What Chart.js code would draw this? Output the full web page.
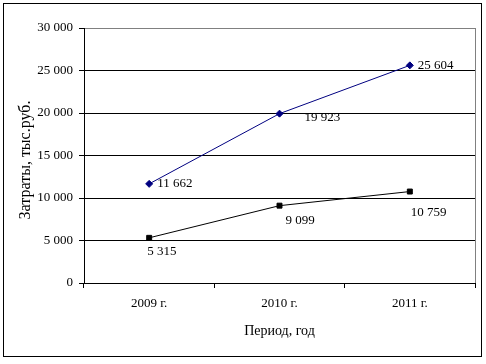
<!DOCTYPE html>
<html>
<head>
<meta charset="utf-8">
<script src="https://cdn.jsdelivr.net/npm/chart.js@4"></script>
<style>
  html, body { margin: 0; padding: 0; background: #fff; }
  #wrap { position: relative; width: 486px; height: 364px; }
  #frame {
    position: absolute; left: 3px; top: 3px; width: 477px; height: 352px;
    border: 1px solid #000; pointer-events: none;
  }
</style>
</head>
<body>
<div id="wrap">
  <canvas id="chart" width="486" height="364"></canvas>
  <div id="frame"></div>
</div>
<script>
  "use strict";

  const categories = ["2009 г.", "2010 г.", "2011 г."];
  const seriesUpper = [11662, 19923, 25604];
  const seriesLower = [5315, 9099, 10759];
  const yTicks = [0, 5000, 10000, 15000, 20000, 25000, 30000];
  const yTitle = "Затраты, тыс.руб.";
  const xTitle = "Период, год";

  // label offsets from each point (px), per dataset
  const labelOffsets = [
    [[8, 0], [25, 4], [8, 0]],
    [[-2, 14], [6, 15], [1, 21]],
  ];

  const FONT = "'Liberation Serif', 'Times New Roman', serif";

  function fmt(v) {
    return String(v).replace(/\B(?=(\d{3})+(?!\d))/g, " ");
  }

  const extras = {
    id: "extras",
    afterDatasetsDraw(chart) {
      const ctx = chart.ctx;
      const area = chart.chartArea;
      ctx.save();
      // right border of plot area
      ctx.strokeStyle = "#808080";
      ctx.lineWidth = 1;
      ctx.beginPath();
      ctx.moveTo(Math.round(area.right) + 0.5, area.top);
      ctx.lineTo(Math.round(area.right) + 0.5, area.bottom);
      ctx.stroke();

      // data labels
      ctx.font = "13px " + FONT;
      ctx.fillStyle = "#000";
      ctx.textAlign = "left";
      ctx.textBaseline = "middle";
      chart.data.datasets.forEach((ds, di) => {
        const meta = chart.getDatasetMeta(di);
        meta.data.forEach((pt, i) => {
          const off = labelOffsets[di][i];
          ctx.fillText(fmt(ds.data[i]), pt.x + off[0], pt.y + off[1]);
        });
      });

      // axis titles
      ctx.textAlign = "center";
      ctx.font = "14px " + FONT;
      ctx.fillText(xTitle, (area.left + area.right) / 2, 331);
      ctx.font = "16px " + FONT;
      ctx.translate(26, 160);
      ctx.rotate(-Math.PI / 2);
      ctx.fillText(yTitle, 0, 0);
      ctx.restore();
    },
  };

  new Chart(document.getElementById("chart"), {
    type: "line",
    data: {
      labels: categories,
      datasets: [
        {
          data: seriesUpper,
          borderColor: "#000080",
          backgroundColor: "#000080",
          borderWidth: 1,
          pointStyle: "rectRot",
          pointRadius: 3.5,
          tension: 0,
        },
        {
          data: seriesLower,
          borderColor: "#000000",
          backgroundColor: "#000000",
          borderWidth: 1,
          pointStyle: "rect",
          pointRadius: 3.5,
          tension: 0,
        },
      ],
    },
    options: {
      responsive: false,
      animation: false,
      layout: {padding: {top: 28, right: 11, left: 0, bottom: 0}},
      plugins: {legend: {display: false}, tooltip: {enabled: false}},
      scales: {
        x: {
          offset: true,
          grid: {
            offset: true,
            drawOnChartArea: false,
            drawTicks: true,
            tickLength: 5,
            tickColor: "#000",
          },
          border: {color: "#000", width: 1},
          ticks: {
            color: "#000",
            font: {family: FONT, size: 13},
            padding: 8,
            maxRotation: 0,
          },
          afterFit(scale) { scale.height = 81; },
        },
        y: {
          min: 0,
          max: 30000,
          afterBuildTicks(scale) {
            scale.ticks = yTicks.map((v) => ({value: v}));
          },
          grid: {
            color: (c) => (c.tick && c.tick.value === 30000 ? "#808080" : "#000"),
            tickColor: "#000",
            tickLength: 5,
            lineWidth: 1,
          },
          border: {color: "#000", width: 1},
          ticks: {
            color: "#000",
            font: {family: FONT, size: 13},
            padding: 6,
            callback: (v) => fmt(v),
          },
          afterFit(scale) { scale.width = 84; },
        },
      },
    },
    plugins: [extras],
  });
</script>
</body>
</html>
